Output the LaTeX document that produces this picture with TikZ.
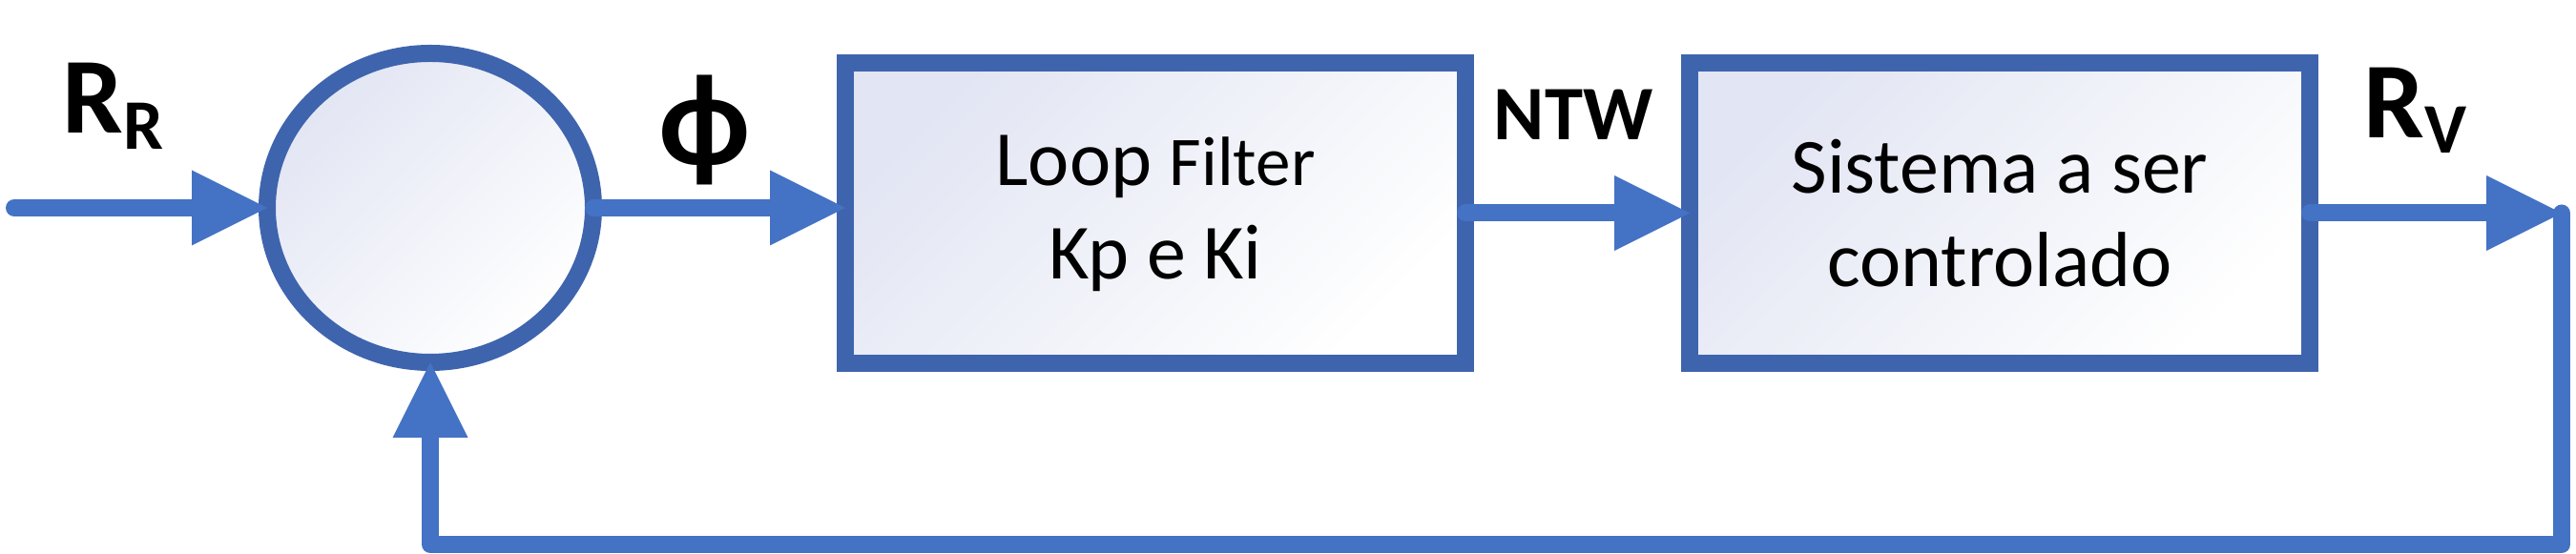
\documentclass[tikz,border=0pt]{standalone}
\usepackage{fontspec}
\setmainfont{Carlito}
\usetikzlibrary{arrows.meta,shapes.geometric}
\definecolor{blockblue}{HTML}{3F64AE}
\definecolor{flowblue}{HTML}{4472C4}
\definecolor{blocktint}{HTML}{E2E5F3}

\begin{document}
\begin{tikzpicture}[
  block/.style={draw=blockblue,line width=0.18cm,outer sep=0pt,top color=blocktint,bottom color=white,shading angle=45,minimum width=6.5cm,minimum height=3.15cm,align=center,font=\fontsize{23.3}{27.9}\selectfont},
  flow/.style={-{Triangle[length=0.79cm,width=0.79cm,line width=0pt]},color=flowblue,line width=0.18cm,line cap=round,line join=round},
  sig/.style={inner sep=0pt,anchor=base west,font=\bfseries\fontsize{32.2}{36}\selectfont}]
	\useasboundingbox (0,0) rectangle (27,5.81);
	\node[draw=blockblue,line width=0.18cm,outer sep=0pt,ellipse,minimum width=3.42cm,minimum height=3.24cm,top color=blocktint,bottom color=white,shading angle=45] (sum) at (4.51,3.63){};
	\node[block] (filt) at (12.11,3.575){Loop {\fontsize{20.8}{27.9}\selectfont Filter}\\Kp e Ki};
	\node[block] (plant) at (20.96,3.575){Sistema a ser\\controlado};
	\coordinate (in) at (0.15,3.63);
	\coordinate (rv) at (26.85,3.575);
	\coordinate (low) at (26.85,0.10);
	\draw (in) edge [flow] (sum.west);
	\draw (sum.east) edge [flow] (sum.east -| filt.west);
	\draw (filt.east) edge [flow] (plant.west);
	\draw (plant.east) edge [flow] (rv);
	\draw[flow] (rv) -- (low) -| (sum.south);
	\node[sig] (rr) at (0.65,4.41){R\raisebox{-0.17cm}{\fontsize{21.2}{24}\selectfont R}};
	\node[sig,anchor=center,font=\bfseries\fontsize{39}{42}\selectfont] (phi) at (7.39,4.45){ϕ};
	\node[sig,font=\bfseries\fontsize{23}{28}\selectfont] (ntw) at (15.65,4.34){NTW};
	\node[sig] (rvl) at (24.77,4.36){R\raisebox{-0.16cm}{\fontsize{21.2}{24}\selectfont V}};
\end{tikzpicture}
\end{document}
